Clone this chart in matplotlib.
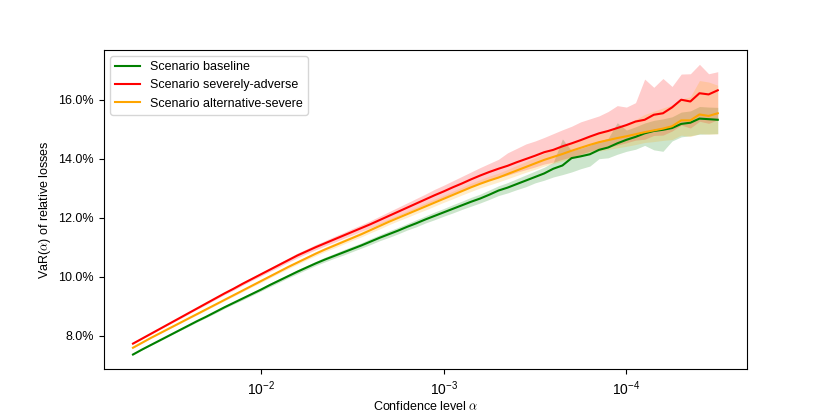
import numpy as np
import matplotlib
matplotlib.use('Agg')
import matplotlib.pyplot as plt
from matplotlib.ticker import PercentFormatter, NullLocator, LogLocator

plt.rcParams['mathtext.fontset'] = 'cm'
plt.rcParams['font.family'] = ['Liberation Sans', 'DejaVu Sans']
plt.rcParams['font.size'] = 9

# confidence levels, log10(alpha)
log_alpha = [-1.30, -1.35, -1.40, -1.45, -1.50, -1.55, -1.60, -1.65, -1.70, -1.75,
             -1.80, -1.85, -1.90, -1.95, -2.00, -2.05, -2.10, -2.15, -2.20, -2.25,
             -2.30, -2.35, -2.40, -2.45, -2.50, -2.55, -2.60, -2.65, -2.70, -2.75,
             -2.80, -2.85, -2.90, -2.95, -3.00, -3.05, -3.10, -3.15, -3.20, -3.25,
             -3.30, -3.35, -3.40, -3.45, -3.50, -3.55, -3.60, -3.65, -3.70, -3.75,
             -3.80, -3.85, -3.90, -3.95, -4.00, -4.05, -4.10, -4.15, -4.20, -4.25,
             -4.30, -4.35, -4.40, -4.45, -4.50]

# VaR in % of relative losses
var_baseline = [7.36, 7.53, 7.69, 7.85, 8.01, 8.17, 8.33, 8.49, 8.64, 8.80,
                8.96, 9.11, 9.26, 9.41, 9.56, 9.72, 9.87, 10.02, 10.17, 10.31,
                10.45, 10.58, 10.70, 10.82, 10.94, 11.06, 11.19, 11.32, 11.44, 11.56,
                11.69, 11.81, 11.94, 12.06, 12.18, 12.30, 12.42, 12.54, 12.65, 12.78,
                12.92, 13.02, 13.14, 13.26, 13.38, 13.50, 13.66, 13.77, 14.02, 14.08,
                14.15, 14.30, 14.38, 14.52, 14.64, 14.74, 14.86, 14.94, 14.98, 15.04,
                15.18, 15.22, 15.36, 15.34, 15.32]
var_severe = [7.73, 7.90, 8.07, 8.24, 8.41, 8.58, 8.75, 8.92, 9.09, 9.26,
              9.43, 9.59, 9.76, 9.92, 10.08, 10.24, 10.40, 10.56, 10.72, 10.86,
              11.00, 11.13, 11.26, 11.39, 11.52, 11.65, 11.78, 11.92, 12.06, 12.20,
              12.34, 12.48, 12.62, 12.76, 12.89, 13.03, 13.16, 13.30, 13.43, 13.55,
              13.66, 13.76, 13.88, 13.99, 14.10, 14.22, 14.30, 14.42, 14.52, 14.63,
              14.75, 14.86, 14.94, 15.04, 15.14, 15.26, 15.32, 15.49, 15.54, 15.74,
              16.00, 15.94, 16.22, 16.18, 16.32]
var_alternative = [7.59, 7.76, 7.93, 8.09, 8.25, 8.41, 8.57, 8.73, 8.89, 9.05,
                   9.21, 9.37, 9.53, 9.69, 9.85, 10.01, 10.17, 10.33, 10.48, 10.63,
                   10.78, 10.92, 11.05, 11.18, 11.31, 11.44, 11.58, 11.72, 11.86, 11.99,
                   12.12, 12.25, 12.38, 12.51, 12.64, 12.77, 12.90, 13.03, 13.15, 13.26,
                   13.36, 13.48, 13.60, 13.72, 13.84, 13.96, 14.06, 14.16, 14.27, 14.37,
                   14.47, 14.56, 14.63, 14.70, 14.76, 14.83, 14.90, 14.96, 15.02, 15.10,
                   15.30, 15.30, 15.50, 15.45, 15.54]

# band widths (above / below the estimate), in %
base_up = [0.01, 0.01, 0.01, 0.02, 0.02, 0.02, 0.03, 0.03, 0.03, 0.04,
           0.04, 0.04, 0.05, 0.05, 0.05, 0.06, 0.06, 0.06, 0.07, 0.07,
           0.07, 0.08, 0.08, 0.09, 0.09, 0.09, 0.10, 0.10, 0.11, 0.11,
           0.11, 0.12, 0.12, 0.13, 0.13, 0.14, 0.14, 0.15, 0.15, 0.16,
           0.16, 0.17, 0.18, 0.19, 0.20, 0.21, 0.22, 0.90, 0.25, 0.27,
           0.30, 0.30, 0.31, 0.70, 0.33, 0.34, 0.35, 0.36, 0.37, 0.38,
           0.40, 0.40, 0.41, 0.41, 0.42]
base_dn = [0.01, 0.01, 0.01, 0.02, 0.02, 0.02, 0.03, 0.03, 0.03, 0.04,
           0.04, 0.04, 0.05, 0.05, 0.05, 0.06, 0.06, 0.06, 0.07, 0.07,
           0.07, 0.08, 0.08, 0.09, 0.09, 0.09, 0.10, 0.10, 0.11, 0.11,
           0.11, 0.12, 0.12, 0.13, 0.13, 0.14, 0.14, 0.15, 0.15, 0.16,
           0.17, 0.18, 0.19, 0.21, 0.20, 0.23, 0.28, 0.31, 0.47, 0.42,
           0.40, 0.30, 0.35, 0.37, 0.39, 0.42, 0.41, 0.64, 0.73, 0.44,
           0.44, 0.44, 0.53, 0.50, 0.47]
severe_up = [0.01, 0.01, 0.02, 0.02, 0.02, 0.03, 0.03, 0.03, 0.04, 0.04,
             0.04, 0.05, 0.05, 0.05, 0.06, 0.06, 0.07, 0.07, 0.08, 0.08,
             0.09, 0.09, 0.10, 0.10, 0.11, 0.11, 0.12, 0.13, 0.14, 0.15,
             0.16, 0.17, 0.18, 0.20, 0.21, 0.22, 0.24, 0.25, 0.27, 0.29,
             0.32, 0.44, 0.47, 0.51, 0.50, 0.50, 0.55, 0.56, 0.58, 0.62,
             0.60, 0.59, 0.66, 0.76, 0.61, 0.64, 1.38, 0.93, 1.18, 0.71,
             0.87, 0.94, 0.98, 0.70, 0.63]
severe_dn = [0.01, 0.01, 0.02, 0.02, 0.02, 0.03, 0.03, 0.03, 0.04, 0.04,
             0.04, 0.05, 0.05, 0.05, 0.06, 0.06, 0.07, 0.07, 0.08, 0.08,
             0.09, 0.09, 0.10, 0.10, 0.11, 0.11, 0.12, 0.13, 0.14, 0.15,
             0.16, 0.17, 0.18, 0.19, 0.20, 0.21, 0.22, 0.24, 0.25, 0.27,
             0.30, 0.32, 0.34, 0.36, 0.38, 0.40, 0.42, 0.44, 0.46, 0.48,
             0.50, 0.52, 0.55, 0.58, 0.60, 0.63, 0.66, 0.70, 0.74, 0.80,
             0.86, 0.90, 0.95, 0.98, 1.00]
alt_up = [0.01, 0.01, 0.01, 0.02, 0.02, 0.02, 0.02, 0.03, 0.03, 0.03,
          0.03, 0.04, 0.04, 0.04, 0.05, 0.05, 0.05, 0.06, 0.06, 0.06,
          0.07, 0.07, 0.08, 0.08, 0.08, 0.09, 0.09, 0.10, 0.10, 0.10,
          0.11, 0.11, 0.12, 0.12, 0.12, 0.13, 0.13, 0.14, 0.14, 0.15,
          0.15, 0.16, 0.17, 0.18, 0.20, 0.22, 0.24, 0.26, 0.28, 0.29,
          0.30, 0.32, 0.35, 0.38, 0.42, 0.50, 0.60, 0.65, 0.70, 0.72,
          0.72, 0.80, 1.15, 1.15, 0.95]
alt_dn = [0.01, 0.01, 0.01, 0.02, 0.02, 0.02, 0.02, 0.03, 0.03, 0.03,
          0.03, 0.04, 0.04, 0.04, 0.05, 0.05, 0.05, 0.06, 0.06, 0.06,
          0.07, 0.07, 0.08, 0.08, 0.08, 0.09, 0.09, 0.10, 0.10, 0.10,
          0.11, 0.11, 0.12, 0.12, 0.12, 0.13, 0.13, 0.14, 0.14, 0.15,
          0.15, 0.16, 0.17, 0.18, 0.20, 0.21, 0.22, 0.24, 0.26, 0.28,
          0.30, 0.30, 0.32, 0.33, 0.34, 0.35, 0.35, 0.38, 0.40, 0.45,
          0.50, 0.55, 0.65, 0.62, 0.70]

alpha = 10 ** np.array(log_alpha)
series = [
    ('Scenario baseline', var_baseline, base_up, base_dn, 'green'),
    ('Scenario severely-adverse', var_severe, severe_up, severe_dn, 'red'),
    ('Scenario alternative-severe', var_alternative, alt_up, alt_dn, 'orange'),
]

fig, ax = plt.subplots(figsize=(8.3, 4.15), dpi=100)
for name, v, up, dn, c in series:
    v = np.array(v) / 100
    ax.plot(alpha, v, color=c, lw=1.5, label=name)
    ax.fill_between(alpha, v - np.array(dn) / 100, v + np.array(up) / 100,
                    color=c, alpha=0.2, lw=0)

ax.set_xscale('log')
ax.invert_xaxis()
ax.xaxis.set_major_locator(LogLocator(base=10))
ax.xaxis.set_minor_locator(NullLocator())
ax.tick_params(axis='x', labelsize=10)
ax.yaxis.set_major_formatter(PercentFormatter(xmax=1, decimals=1))
ax.set_xlabel(r'Confidence level $\alpha$', labelpad=2)
ax.set_ylabel(r'VaR($\alpha$) of relative losses')
ax.legend(loc='upper left')

plt.savefig('out.png')
